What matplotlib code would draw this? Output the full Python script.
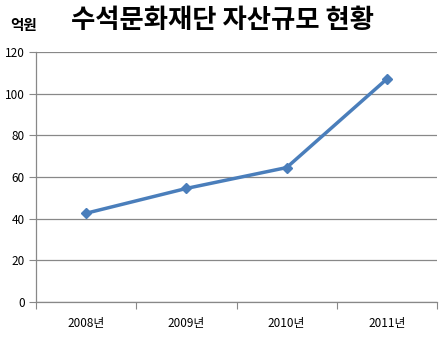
import numpy as np
import matplotlib.pyplot as plt

plt.rcParams['font.family'] = ['Noto Sans CJK KR', 'DejaVu Sans']

years = ["2008년", "2009년", "2010년", "2011년"]
assets = [42.6, 54.5, 64.5, 107.0]
yticks = [0, 20, 40, 60, 80, 100, 120]

fig = plt.figure(figsize=(4.45, 3.39), dpi=100)
ax = fig.add_axes([0.081, 0.109, 0.901, 0.738])

x = np.arange(len(years))
ax.plot(x, assets, color="#4A7EBB", lw=2.5, marker="D", ms=5.5, zorder=3)

ax.set_xlim(-0.5, len(years) - 0.5)
ax.set_ylim(0, 120)
ax.set_yticks(yticks)
ax.yaxis.grid(True, color="#888888", lw=0.9)
ax.set_axisbelow(True)

ax.set_xticks(np.arange(-0.5, len(years)), minor=False)
ax.set_xticklabels([])
ax.set_xticks(x, minor=True)
ax.set_xticklabels(years, minor=True)
ax.tick_params(axis="x", which="major", length=5, color="#888888", direction="out")
ax.tick_params(axis="x", which="minor", length=0, pad=11, labelsize=8.5)
ax.tick_params(axis="y", length=5, color="#888888", labelsize=8.5, pad=3)

for s in ["top", "right"]:
    ax.spines[s].set_visible(False)
for s in ["left", "bottom"]:
    ax.spines[s].set_color("#888888")
    ax.spines[s].set_linewidth(0.9)

fig.text(0.5, 0.94, "수석문화재단 자산규모 현황", ha="center", va="center",
         fontsize=19, fontweight="bold")
fig.text(0.054, 0.925, "억원", ha="center", va="center", fontsize=10.5, fontweight="bold")

fig.savefig("out.png", dpi=100)
